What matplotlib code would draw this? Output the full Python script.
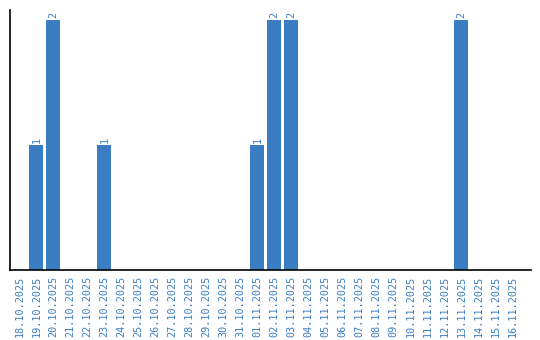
import matplotlib
matplotlib.use("Agg")
import matplotlib.pyplot as plt

dates = ["18.10.2025", "19.10.2025", "20.10.2025", "21.10.2025", "22.10.2025",
         "23.10.2025", "24.10.2025", "25.10.2025", "26.10.2025", "27.10.2025",
         "28.10.2025", "29.10.2025", "30.10.2025", "31.10.2025", "01.11.2025",
         "02.11.2025", "03.11.2025", "04.11.2025", "05.11.2025", "06.11.2025",
         "07.11.2025", "08.11.2025", "09.11.2025", "10.11.2025", "11.11.2025",
         "12.11.2025", "13.11.2025", "14.11.2025", "15.11.2025", "16.11.2025"]
counts = [0, 1, 2, 0, 0, 1, 0, 0, 0, 0, 0, 0, 0, 0, 1, 2, 2, 0, 0, 0,
          0, 0, 0, 0, 0, 0, 2, 0, 0, 0]

color = "#3b7dc3"
fig = plt.figure(figsize=(5.4, 3.4), dpi=100)
ax = fig.add_axes([10/540, 70/340, 521/540, 260/340])
x = list(range(len(dates)))
ax.bar(x, counts, width=0.82, color=color)
for xi, v in zip(x, counts):
    if v > 0:
        ax.text(xi, v + 0.02, str(v), rotation=90, ha="center", va="bottom",
                color=color, fontsize=7.3, family="DejaVu Sans Mono")
ax.set_xlim(-0.55, -0.55 + 521/17)
ax.set_ylim(0, 2.08)
ax.set_xticks(x)
ax.set_xticklabels(dates, rotation=90, color=color, fontsize=7.3, family="DejaVu Sans Mono")
ax.tick_params(axis="x", length=0, pad=4)
ax.set_yticks([])
ax.spines["top"].set_visible(False)
ax.spines["right"].set_visible(False)
ax.spines["left"].set_linewidth(1.2)
ax.spines["bottom"].set_linewidth(1.2)
fig.savefig("out.png", dpi=100)
